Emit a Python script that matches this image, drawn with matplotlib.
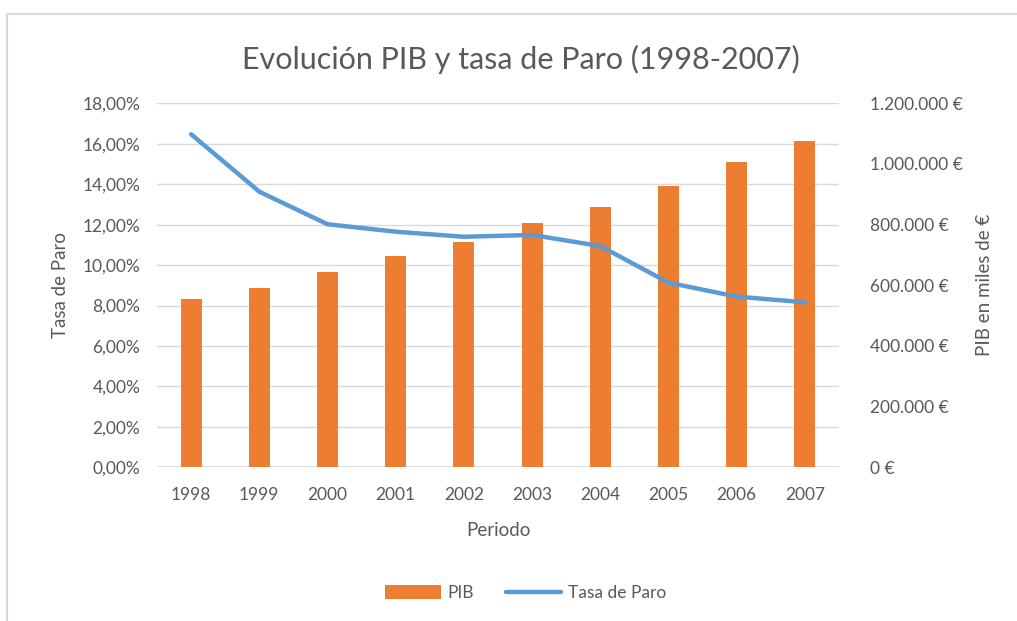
import matplotlib.pyplot as plt
import matplotlib.ticker as mticker
from matplotlib.patches import Rectangle
import numpy as np

plt.rcParams['font.family'] = ['Lato', 'DejaVu Sans']

#datos
anios = ['1998', '1999', '2000', '2001', '2002', '2003', '2004', '2005', '2006', '2007']
pib = [554000, 590000, 643000, 697000, 744000, 804000, 857000, 928000, 1006000, 1077000]
paro = [16.47, 13.63, 12.02, 11.65, 11.40, 11.49, 10.94, 9.13, 8.44, 8.16]

gris = '#595959'
naranja = '#ED7D31'
azul = '#5B9BD5'

fig = plt.figure(figsize=(10.17, 6.21), dpi=100)
ax = fig.add_axes([157/1017, 1 - 467.3/621, 682/1017, 364/621])
ax2 = ax.twinx()

x = np.arange(len(anios))

#barras PIB (eje derecho)
ax2.bar(x, pib, width=0.31, color=naranja, label='PIB', zorder=2)
ax2.set_ylim(0, 1200000)
ax2.yaxis.set_major_locator(mticker.MultipleLocator(200000))
ax2.yaxis.set_major_formatter(mticker.FuncFormatter(
    lambda v, p: '{:,.0f} €'.format(v).replace(',', '.')))

#linea paro (eje izquierdo)
ax.set_zorder(ax2.get_zorder() + 1)
ax.patch.set_visible(False)
ax.plot(x, paro, color=azul, lw=3.2, solid_joinstyle='round', solid_capstyle='round',
        label='Tasa de Paro', zorder=3)
ax.set_ylim(0, 18)
ax.yaxis.set_major_locator(mticker.MultipleLocator(2))
ax.yaxis.set_major_formatter(mticker.FuncFormatter(
    lambda v, p: '{:.2f}%'.format(v).replace('.', ',')))
ax.set_xlim(-0.5, len(anios) - 0.5)
ax.set_xticks(x)
ax.set_xticklabels(anios)

#rejilla
ax2.grid(False)
for v in np.arange(2, 19, 2):
    ax2.axhline(v / 18 * 1200000, color='#d9d9d9', lw=1, zorder=0)
ax2.axhline(0, color='#d9d9d9', lw=1.2, zorder=1)

for a in (ax, ax2):
    for s in a.spines.values():
        s.set_visible(False)
    a.tick_params(length=0, colors=gris, labelsize=12.5)
ax.tick_params(axis='y', pad=12)
ax.tick_params(axis='x', pad=14)
ax2.tick_params(axis='y', pad=22)

ax.set_ylabel('Tasa de Paro', color=gris, fontsize=13.5, labelpad=10)
ax2.set_ylabel('PIB en miles de €', color=gris, fontsize=13.5, labelpad=10)
ax.set_xlabel('Periodo', color=gris, fontsize=13.5, labelpad=14)

fig.suptitle('Evolución PIB y tasa de Paro (1998-2007)', x=0.512, y=0.928,
             color=gris, fontsize=22)

h1, l1 = ax2.get_legend_handles_labels()
h2, l2 = ax.get_legend_handles_labels()
fig.legend(h1 + h2, l1 + l2, loc='center', bbox_to_anchor=(0.517, 1 - 593/621),
           ncol=2, frameon=False, fontsize=12.5, labelcolor=gris,
           handlelength=3.2, handleheight=0.8, columnspacing=1.8, handletextpad=0.4)

#marco
rect = Rectangle((7/1017, -0.05), 1.1, 1 - 14/621 + 0.05, fill=False,
                 edgecolor='#d9d9d9', lw=1.5, transform=fig.transFigure, figure=fig)
fig.patches.append(rect)

fig.savefig('out.png', dpi=100)
